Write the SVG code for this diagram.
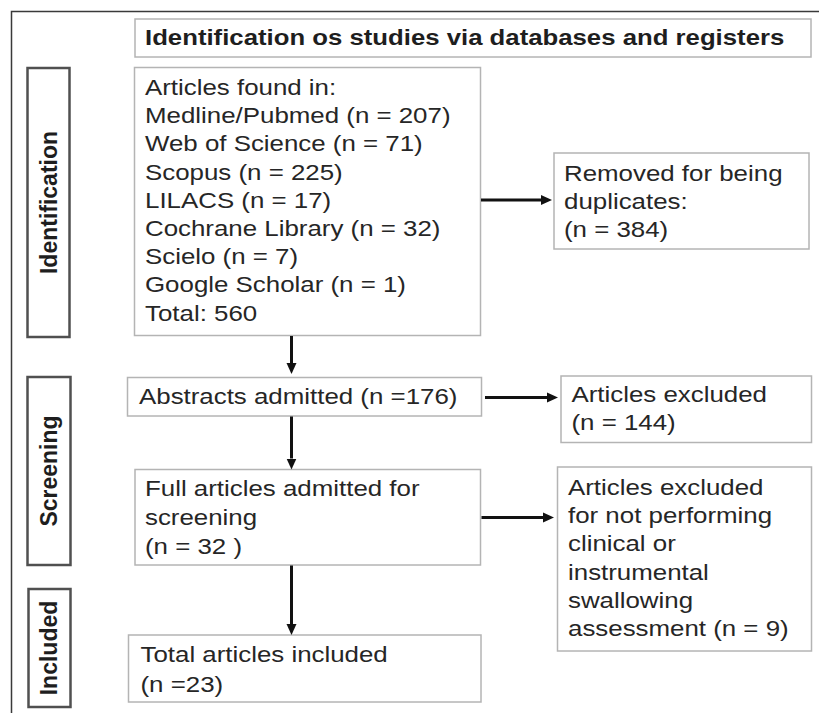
<svg xmlns="http://www.w3.org/2000/svg" width="819" height="713" viewBox="0 0 819 713">
<style>
.box{fill:#fff;stroke:#b4b4b4;stroke-width:1.5}
.lab{fill:#fff;stroke:#505050;stroke-width:2.5}
.t{font-family:"Liberation Sans",Arial,sans-serif;font-size:22.5px;fill:#262626}
.b{font-family:"Liberation Sans",Arial,sans-serif;font-size:22px;font-weight:bold;fill:#1e1e1e}
.v{font-family:"Liberation Sans",Arial,sans-serif;font-size:23px;font-weight:bold;fill:#1e1e1e}
.frame{stroke:#3a3a3a;stroke-width:1.5;fill:none}
.arr{stroke:#111;stroke-width:3;fill:none;marker-end:url(#ah)}
</style>
<defs>
<marker id="ah" markerUnits="userSpaceOnUse" markerWidth="11" markerHeight="11" refX="0" refY="5" orient="auto" viewBox="0 0 11 10">
<path d="M0,0 L11,5 L0,10 z" fill="#111"/>
</marker>
</defs>
<rect width="819" height="713" fill="#fff"/>
<path class="frame" d="M11.5,713 V11.5 H819"/>

<g id="label-identification">
<rect class="lab" x="27.5" y="68" width="42" height="269"/>
<text class="v" text-anchor="middle" transform="translate(57,202.5) rotate(-90) scale(1,1.05)">Identification</text>
</g>
<g id="label-screening">
<rect class="lab" x="27.5" y="377" width="43" height="188"/>
<text class="v" text-anchor="middle" transform="translate(57,471) rotate(-90) scale(1,1.05)">Screening</text>
</g>
<g id="label-included">
<rect class="lab" x="28.5" y="589" width="42" height="118"/>
<text class="v" text-anchor="middle" transform="translate(57,648) rotate(-90) scale(1,1.05)">Included</text>
</g>

<g id="header">
<rect class="box" x="135" y="19" width="676" height="38"/>
<text class="b" transform="translate(145,45) scale(1.17,1)">Identification os studies via databases and registers</text>
</g>

<g id="articles-found">
<rect class="box" x="134.5" y="67.5" width="346" height="268"/>
<text class="t" transform="translate(145,95) scale(1.15,1)"><tspan x="0" y="0">Articles found in:</tspan><tspan x="0" y="28.2">Medline/Pubmed (n = 207)</tspan><tspan x="0" y="56.4">Web of Science (n = 71)</tspan><tspan x="0" y="84.6">Scopus (n = 225)</tspan><tspan x="0" y="112.8">LILACS (n = 17)</tspan><tspan x="0" y="141">Cochrane Library (n = 32)</tspan><tspan x="0" y="169.2">Scielo (n = 7)</tspan><tspan x="0" y="197.4">Google Scholar (n = 1)</tspan><tspan x="0" y="225.6">Total: 560</tspan></text>
</g>

<g id="removed-duplicates">
<rect class="box" x="554" y="153" width="255" height="96"/>
<text class="t" transform="translate(564,181) scale(1.15,1)"><tspan x="0" y="0">Removed for being</tspan><tspan x="0" y="28">duplicates:</tspan><tspan x="0" y="56">(n = 384)</tspan></text>
</g>

<g id="abstracts-admitted">
<rect class="box" x="127.5" y="377.5" width="354" height="38.5"/>
<text class="t" transform="translate(139,403.5) scale(1.15,1)">Abstracts admitted (n =176)</text>
</g>

<g id="articles-excluded-144">
<rect class="box" x="561" y="376" width="250.5" height="66.5"/>
<text class="t" transform="translate(571.5,402) scale(1.15,1)"><tspan x="0" y="0">Articles excluded</tspan><tspan x="0" y="28">(n = 144)</tspan></text>
</g>

<g id="full-articles">
<rect class="box" x="135" y="469.5" width="345.5" height="95.5"/>
<text class="t" transform="translate(145,496) scale(1.15,1)"><tspan x="0" y="0">Full articles admitted for</tspan><tspan x="0" y="29">screening</tspan><tspan x="0" y="58">(n = 32 )</tspan></text>
</g>

<g id="articles-excluded-9">
<rect class="box" x="557.5" y="467" width="254" height="184"/>
<text class="t" transform="translate(568,495) scale(1.15,1)"><tspan x="0" y="0">Articles excluded</tspan><tspan x="0" y="28.2">for not performing</tspan><tspan x="0" y="56.4">clinical or</tspan><tspan x="0" y="84.6">instrumental</tspan><tspan x="0" y="112.8">swallowing</tspan><tspan x="0" y="141">assessment (n = 9)</tspan></text>
</g>

<g id="total-included">
<rect class="box" x="128.5" y="635" width="352.5" height="67"/>
<text class="t" transform="translate(140.5,662) scale(1.15,1)"><tspan x="0" y="0">Total articles included</tspan><tspan x="0" y="30">(n =23)</tspan></text>
</g>

<g id="connectors">
<line class="arr" x1="291.5" y1="336" x2="291.5" y2="363"/>
<line class="arr" x1="291.5" y1="416.5" x2="291.5" y2="458.5"/>
<line class="arr" x1="291.5" y1="565.5" x2="291.5" y2="624"/>
<line class="arr" x1="481" y1="200" x2="541" y2="200"/>
<line class="arr" x1="485" y1="397.5" x2="547" y2="397.5"/>
<line class="arr" x1="481.5" y1="517.5" x2="543" y2="517.5"/>
</g>
</svg>
